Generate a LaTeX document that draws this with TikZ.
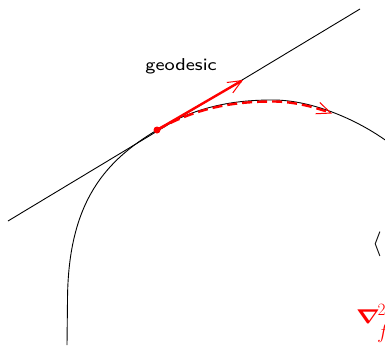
\documentclass[tikz,border=0pt]{standalone}
\usepackage{fontspec}
\usetikzlibrary{arrows.meta}
\begin{document}
\begin{tikzpicture}[x=1pt,y=-1pt,
  thin line/.style={black,line width=0.9pt},
  vecarrow/.style={red,line width=2.4pt,-{Straight Barb[length=14pt,width=12pt,line width=1pt]}},
  dasharrow/.style={red,line width=2.4pt,dash pattern=on 10pt off 5pt,-{Straight Barb[length=14pt,width=12pt,line width=1pt]}},
  lbl/.style={inner sep=0pt}]
\useasboundingbox (0,0) rectangle (385,345);
\clip (0,0) rectangle (385,345);
% tangent line
\coordinate (t1) at (8,221);
\coordinate (t2) at (360,9);
\draw[thin line] (t1) -- (t2);
% curve
\coordinate (c0) at (67,345);
\coordinate (c1) at (67.5,300);
\coordinate (p) at (157,130);
\coordinate (top) at (273,100);
\coordinate (q) at (332,113.5);
\coordinate (c4) at (388,142);
\draw[thin line] (c0) -- (c1) .. controls (68,200) and (107,160) .. (p)
  .. controls (200,104) and (240,100) .. (top)
  .. controls (310,100) and (355,118) .. (c4);
% red vectors
\coordinate (v) at (243,80);
\draw[vecarrow] (p) -- (v);
\draw[dasharrow] (p) .. controls (200,105.5) and (240,101.5) .. (273,101.5)
  .. controls (291.5,101.5) and (312,106) .. (q);
\fill[red] (p) circle (3.5pt);
% labels
\node[lbl,anchor=base] (geo) at (181,70.5) {\scalebox{2.4}[2.15]{\fontsize{8}{9}\sffamily geodesic}};
\node[lbl,anchor=base west] (ang) at (372,250) {\fontsize{27}{32}\selectfont$\langle$};
\node[lbl,anchor=base west,text=red] (nab) at (356,323) {\scalebox{1}[0.8]{\fontsize{24}{28}\selectfont\boldmath$\nabla$}};
\node[lbl,anchor=base west,text=red] (sup) at (377.5,315.5) {\fontsize{17}{20}\selectfont$2$};
\node[lbl,anchor=base west,text=red] (sub) at (377,338) {\fontsize{21}{24}\selectfont$f$};
\end{tikzpicture}
\end{document}
